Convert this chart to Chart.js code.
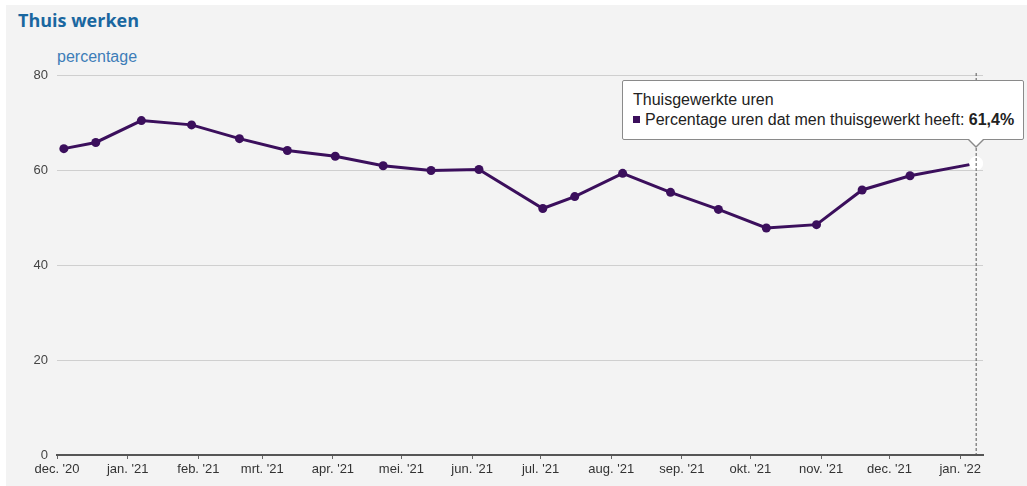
<!DOCTYPE html>
<html>
<head>
<meta charset="utf-8">
<script src="https://cdn.jsdelivr.net/npm/chart.js@4.4.1/dist/chart.umd.min.js"></script>
<style>
  html, body { margin: 0; padding: 0; background: #fff; }
  #wrap { position: relative; width: 1027px; height: 486px; overflow: hidden; }
  #panel { position: absolute; left: 6px; top: 5px; right: 0; bottom: 0; background: #f3f3f3; }
  #titel { position: absolute; left: 18px; top: 8px; font: bold 18px "Open Sans", sans-serif; color: #1a67a0; }
  #eenheid { position: absolute; left: 57px; top: 48px; font: 16px "Liberation Sans", Arial, sans-serif; color: #3d7db8; }
  #grafiek { position: absolute; left: 0; top: 0; }
  #tip { position: absolute; background: #fff; border: 1px solid #8a8a8a; border-radius: 2px;
         padding: 9px 9px 9px 10px; font: 16px "Liberation Sans", Arial, sans-serif; color: #222;
         line-height: 20px; white-space: nowrap; box-sizing: border-box; display: none; }
  #tip .sq { display: inline-block; width: 7px; height: 7px; background: #3b0f5c; margin-right: 5px; vertical-align: 2px; }
  #tip .c1, #tip .c2 { position: absolute; width: 0; height: 0; border-left: 8px solid transparent; border-right: 8px solid transparent; }
  #tip .c1 { border-top: 8px solid #8a8a8a; bottom: -9px; }
  #tip .c2 { border-top: 8px solid #fff; bottom: -7px; }
</style>
</head>
<body>
<div id="wrap">
  <div id="panel"></div>
  <div id="titel">Thuis werken</div>
  <div id="eenheid">percentage</div>
  <canvas id="grafiek" width="1027" height="486"></canvas>
  <div id="tip"></div>
</div>
<script>
const startDatum = "2020-12-01";
const maandLabels = ["dec. '20", "jan. '21", "feb. '21", "mrt. '21", "apr. '21", "mei. '21", "jun. '21",
  "jul. '21", "aug. '21", "sep. '21", "okt. '21", "nov. '21", "dec. '21", "jan. '22"];
const maandDatums = ["2020-12-01", "2021-01-01", "2021-02-01", "2021-03-01", "2021-04-01", "2021-05-01", "2021-06-01",
  "2021-07-01", "2021-08-01", "2021-09-01", "2021-10-01", "2021-11-01", "2021-12-01", "2022-01-01"];
const meetDatums = ["2020-12-04", "2020-12-18", "2021-01-07", "2021-01-29", "2021-02-19", "2021-03-12", "2021-04-02",
  "2021-04-23", "2021-05-14", "2021-06-04", "2021-07-02", "2021-07-16", "2021-08-06", "2021-08-27",
  "2021-09-17", "2021-10-08", "2021-10-30", "2021-11-19", "2021-12-10", "2022-01-08"];
const percentages = [64.5, 65.8, 70.4, 69.5, 66.6, 64.1, 62.9, 60.9, 59.9, 60.1,
  51.9, 54.4, 59.3, 55.3, 51.7, 47.8, 48.5, 55.8, 58.8, 61.4];
const reeksNaam = "Percentage uren dat men thuisgewerkt heeft";
const tipTitel = "Thuisgewerkte uren";

// dagen sinds 1 dec 2020, zodat de x-as evenredig met de tijd loopt
const dag = d => Math.round((Date.parse(d) - Date.parse(startDatum)) / 86400000);
const maandPos = maandDatums.map(dag);
const punten = meetDatums.map((d, i) => ({ x: dag(d), y: percentages[i] }));
const paars = "#3b0f5c";

function externeTip(context) {
  const tip = document.getElementById("tip");
  const model = context.tooltip;
  if (model.opacity === 0 || !model.dataPoints || !model.dataPoints.length) { tip.style.display = "none"; return; }
  const p = model.dataPoints[0];
  const waarde = p.parsed.y.toFixed(1).replace(".", ",");
  tip.innerHTML = `<div>${tipTitel}</div><div><span class="sq"></span>${reeksNaam}: <b>${waarde}%</b></div>` +
    `<div class="c1"></div><div class="c2"></div>`;
  tip.style.display = "block";
  const b = tip.getBoundingClientRect();
  const cx = model.caretX, cy = model.caretY;
  const links = Math.min(cx + 48, 1025) - b.width;
  tip.style.left = links + "px";
  tip.style.top = (cy - 23 - b.height) + "px";
  const caretL = (cx - links - 9) + "px";
  tip.querySelector(".c1").style.left = caretL;
  tip.querySelector(".c2").style.left = caretL;
}

const kruislijn = {
  id: "kruislijn",
  afterDatasetsDraw(chart) {
    const act = chart.getActiveElements();
    if (!act.length) return;
    const x = act[0].element.x;
    const ctx = chart.ctx;
    ctx.save();
    ctx.strokeStyle = "#555";
    ctx.lineWidth = 1;
    ctx.setLineDash([3, 2]);
    ctx.beginPath();
    ctx.moveTo(x, chart.chartArea.top - 2);
    ctx.lineTo(x, chart.chartArea.bottom);
    ctx.stroke();
    ctx.restore();
  }
};

const chart = new Chart(document.getElementById("grafiek"), {
  type: "line",
  data: {
    datasets: [{
      label: reeksNaam,
      data: punten,
      borderColor: paars,
      backgroundColor: paars,
      borderWidth: 3,
      pointRadius: 4.5,
      pointBorderWidth: 0,
      pointHoverRadius: 7,
      pointHoverBackgroundColor: "#fff",
      pointHoverBorderColor: "#fff",
      pointHoverBorderWidth: 0,
      tension: 0
    }]
  },
  options: {
    responsive: false,
    animation: false,
    events: [],
    layout: { padding: { top: 75, right: 44, left: 0, bottom: 0 } },
    plugins: {
      legend: { display: false },
      tooltip: { enabled: false, external: externeTip }
    },
    scales: {
      x: {
        type: "linear",
        min: 0,
        max: 406,
        afterBuildTicks: s => { s.ticks = maandPos.map(v => ({ value: v })); },
        afterFit: s => { s.height = 31; },
        grid: { display: true, drawOnChartArea: false, tickLength: 4, tickColor: "#666", tickWidth: 1 },
        border: { color: "#555", width: 2 },
        ticks: {
          autoSkip: false, maxRotation: 0, padding: 3,
          color: "#333", font: { family: "Liberation Sans", size: 13 },
          callback: (v, i) => maandLabels[i]
        }
      },
      y: {
        min: 0,
        max: 80,
        afterFit: s => { s.width = 57; },
        grid: { color: "#cfcfcf", lineWidth: 1, drawTicks: false },
        border: { display: false },
        ticks: { stepSize: 20, padding: 9, color: "#444", font: { family: "Liberation Sans", size: 13 } }
      }
    }
  },
  plugins: [kruislijn]
});

const laatste = punten.length - 1;
const el = chart.getDatasetMeta(0).data[laatste];
chart.setActiveElements([{ datasetIndex: 0, index: laatste }]);
chart.tooltip.setActiveElements([{ datasetIndex: 0, index: laatste }], { x: el.x, y: el.y });
chart.update();
</script>
</body>
</html>
